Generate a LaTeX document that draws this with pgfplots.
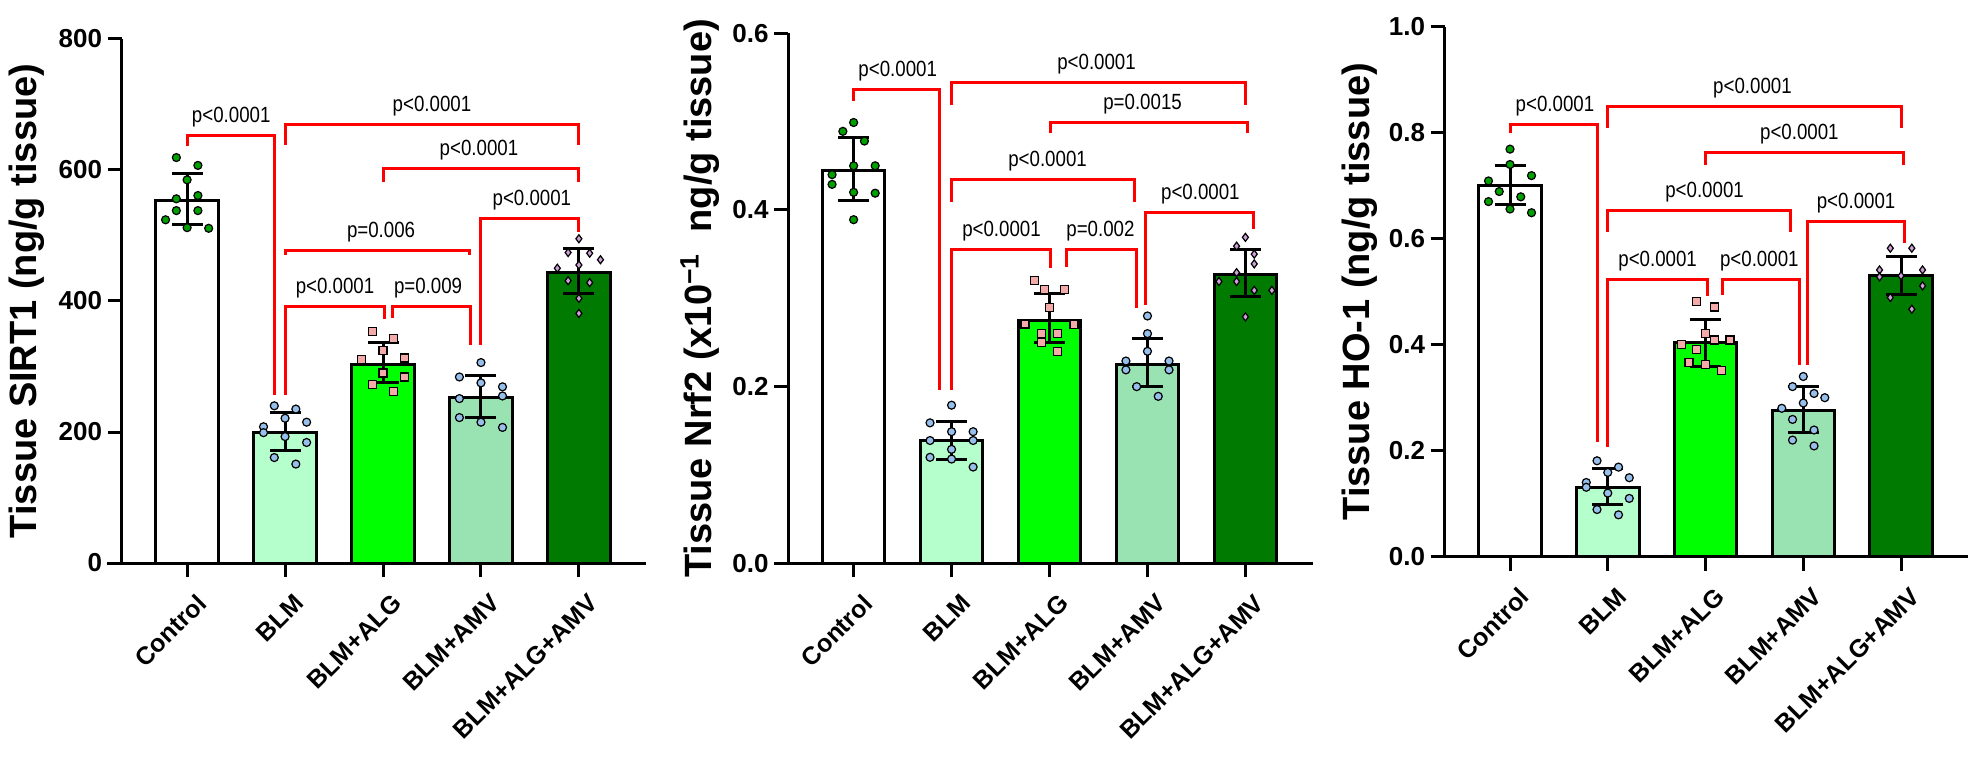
\documentclass[border=0pt]{standalone}
\usepackage{fontspec}
\setmainfont{Liberation Sans}
\newfontfamily\pnarrow[FakeStretch=0.85]{Liberation Sans}
\usepackage{pgfplots}
\pgfplotsset{compat=1.18}
\definecolor{pred}{RGB}{255,0,0}
\definecolor{ctrlpt}{RGB}{0,160,0}
\definecolor{blmbar}{RGB}{180,255,204}
\definecolor{algbar}{RGB}{0,255,0}
\definecolor{amvbar}{RGB}{153,226,178}
\definecolor{combbar}{RGB}{0,122,0}
\definecolor{bluept}{RGB}{150,192,235}
\definecolor{pinkpt}{RGB}{245,170,170}
\definecolor{violetpt}{RGB}{205,160,215}
\pgfplotsset{
 panel/.style={
  scale only axis, anchor=south west,
  xmin=-0.67, xmax=4.685, ymin=0,
  axis lines=left,
  axis line style={line width=1.5pt, -, black},
  x axis line style={shorten <=-7pt},
  tick align=outside, major tick length=7pt,
  tick style={black, line width=1.5pt},
  xtick={0,1,2,3,4},
  xticklabels={Control,BLM,BLM+ALG,BLM+AMV,BLM+ALG+AMV},
  xticklabel style={xshift=4pt, yshift=-7.5pt, rotate=45, anchor=north east, inner sep=0pt, font=\fontsize{12.5}{12.5}\selectfont\bfseries},
  yticklabel style={anchor=east, inner sep=0pt, xshift=-2.5pt, font=\fontsize{13}{13}\selectfont\bfseries},
  /pgf/number format/assume math mode=true,
  ylabel style={font=\fontsize{19}{19}\selectfont\bfseries, anchor=center},
  clip=false,
  minor tick num=0,
 },
 barp/.style={ybar, bar shift=0pt, bar width=0.64, draw=black, line width=1.5pt, fill=#1},
 pts/.style 2 args={only marks, mark=#1, mark size=2pt, mark options={fill=#2, draw=black, line width=0.6pt, solid}},
 errp/.style={draw=none, mark=none, forget plot, error bars/.cd, y dir=both, y explicit, error bar style={draw=black, line width=1.5pt}, error mark options={rotate=90, draw=black, mark size=7.75pt, line width=1.5pt}},
 brk/.style={draw=pred, line width=1.5pt, mark=none, line join=miter},
}
\tikzset{plab/.style={anchor=base, yshift=6.5pt, inner sep=0pt, font=\pnarrow\fontsize{11}{11}\selectfont}}
\begin{document}
\begin{tikzpicture}
\useasboundingbox (0,0) rectangle (992.5pt,383pt);
% ---------------- Panel 1: SIRT1
\begin{axis}[panel, at={(60.75pt,101.5pt)}, width=262.25pt, height=262pt,
  ymax=800, ytick={0,200,400,600,800},
  ylabel={Tissue SIRT1 (ng/g tissue)},
  ylabel style={at={(axis description cs:-0.181,0.5)}}]
\addplot[barp=white] coordinates {(0,553)};
\addplot[barp=blmbar] coordinates {(1,200)};
\addplot[barp=algbar] coordinates {(2,303)};
\addplot[barp=amvbar] coordinates {(3,253)};
\addplot[barp=combbar] coordinates {(4,444)};
\addplot[pts={*}{ctrlpt}] coordinates {(-0.11,619)(0.11,607)(0,585)(-0.11,556)(0.11,561)(-0.11,538)(0.11,538)(-0.22,524)(0,512)(0.22,511)};
\addplot[pts={*}{bluept}] coordinates {(0.89,240)(1.11,235)(1,221)(1.22,215)(0.78,208)(0.78,199)(1,193)(1.22,184)(0.89,161)(1.11,151)};
\addplot[pts={square*}{pinkpt}] coordinates {(1.89,354)(2.11,343)(2,324)(1.78,311)(2.22,313)(2,290)(2.22,284)(1.89,273)(2.11,262)};
\addplot[pts={*}{bluept}] coordinates {(3,306)(2.78,284)(3.22,269)(3,275)(2.78,251)(3.22,255)(2.78,222)(3,215)(3.22,207)};
\addplot[pts={diamond*}{violetpt}] coordinates {(4,495)(3.89,474)(4.11,473)(4.22,463)(3.78,450)(4,455)(3.89,431)(4.11,428)(4,404)(4,381)};
\addplot[errp] coordinates {(0,553) += (0,41) -= (0,36) (1,200) += (0,30) -= (0,29) (2,303) += (0,33) -= (0,28) (3,253) += (0,33) -= (0,31) (4,444) += (0,36) -= (0,32)};
\addplot[brk] coordinates {(0,636)(0,653)(0.89,653)(0.89,256)};
\addplot[brk] coordinates {(1,638)(1,669)(4,669)(4,638)};
\addplot[brk] coordinates {(2,582)(2,603)(4,603)(4,582)};
\addplot[brk] coordinates {(3,333)(3,526)(4,526)(4,506)};
\addplot[brk] coordinates {(1,470)(1,477)(2.88,477)(2.88,470)};
\addplot[brk] coordinates {(1,256)(1,392)(2.02,392)(2.02,372)};
\addplot[brk] coordinates {(2.1,374)(2.1,392)(2.89,392)(2.89,333)};
\node[plab] at (axis cs:0.45,653) {p<0.0001};
\node[plab] at (axis cs:2.5,669) {p<0.0001};
\node[plab] at (axis cs:2.98,603) {p<0.0001};
\node[plab] at (axis cs:3.52,526) {p<0.0001};
\node[plab] at (axis cs:1.98,477) {p=0.006};
\node[plab] at (axis cs:1.51,392) {p<0.0001};
\node[plab] at (axis cs:2.46,392) {p=0.009};
\end{axis}
% ---------------- Panel 2: Nrf2
\begin{axis}[panel, at={(394pt,101.35pt)}, width=262.25pt, height=265pt,
  ymax=0.6, ytick={0,0.2,0.4,0.6},
  yticklabel style={/pgf/number format/.cd, fixed, fixed zerofill, precision=1},
  ylabel={Tissue Nrf2 (x10\textsuperscript{−1}\ \ ng/g tissue)},
  ylabel style={at={(axis description cs:-0.168,0.5)}}]
\addplot[barp=white] coordinates {(0,0.4445)};
\addplot[barp=blmbar] coordinates {(1,0.1385)};
\addplot[barp=algbar] coordinates {(2,0.2754)};
\addplot[barp=amvbar] coordinates {(3,0.2256)};
\addplot[barp=combbar] coordinates {(4,0.3275)};
\addplot[pts={*}{ctrlpt}] coordinates {(0,0.499)(-0.11,0.489)(0.11,0.478)(0.22,0.450)(-0.22,0.440)(0,0.450)(-0.22,0.429)(0.22,0.419)(0,0.420)(0,0.389)};
\addplot[pts={*}{bluept}] coordinates {(1,0.179)(0.78,0.159)(1,0.149)(1.22,0.149)(0.78,0.139)(1.22,0.139)(1,0.129)(0.78,0.120)(1,0.118)(1.22,0.109)};
\addplot[pts={square*}{pinkpt}] coordinates {(1.85,0.320)(1.95,0.310)(2.15,0.310)(2,0.290)(1.75,0.271)(2.25,0.270)(1.92,0.260)(2.08,0.260)(1.92,0.250)(2.08,0.240)};
\addplot[pts={*}{bluept}] coordinates {(3,0.280)(3,0.260)(3,0.240)(2.78,0.229)(3.22,0.229)(2.78,0.219)(3.22,0.219)(2.89,0.200)(3.11,0.189)};
\addplot[pts={diamond*}{violetpt}] coordinates {(4,0.369)(3.91,0.359)(4.09,0.350)(4.09,0.339)(3.91,0.329)(3.73,0.319)(3.91,0.319)(4.09,0.309)(4.27,0.309)(4,0.279)};
\addplot[errp] coordinates {(0,0.4445) += (0,0.0375) -= (0,0.0335) (1,0.1385) += (0,0.0215) -= (0,0.0205) (2,0.2754) += (0,0.0303) -= (0,0.0254) (3,0.2256) += (0,0.0284) -= (0,0.0256) (4,0.3275) += (0,0.028) -= (0,0.0249)};
\addplot[brk] coordinates {(0,0.5237)(0,0.5359)(0.88,0.5359)(0.88,0.196)};
\addplot[brk] coordinates {(1,0.5188)(1,0.544)(4,0.544)(4,0.5188)};
\addplot[brk] coordinates {(2.01,0.4868)(2.01,0.4989)(4.02,0.4989)(4.02,0.4868)};
\addplot[brk] coordinates {(1,0.4094)(1,0.434)(2.87,0.434)(2.87,0.4094)};
\addplot[brk] coordinates {(2.98,0.2924)(2.98,0.3974)(4.08,0.3974)(4.08,0.379)};
\addplot[brk] coordinates {(1,0.196)(1,0.3547)(2.01,0.3547)(2.01,0.334)};
\addplot[brk] coordinates {(2.17,0.3358)(2.17,0.3547)(2.89,0.3547)(2.89,0.2887)};
\node[plab] at (axis cs:0.45,0.5359) {p<0.0001};
\node[plab] at (axis cs:2.48,0.544) {p<0.0001};
\node[plab] at (axis cs:2.95,0.4989) {p=0.0015};
\node[plab] at (axis cs:1.98,0.434) {p<0.0001};
\node[plab] at (axis cs:3.54,0.3974) {p<0.0001};
\node[plab] at (axis cs:1.51,0.3547) {p<0.0001};
\node[plab] at (axis cs:2.52,0.3547) {p=0.002};
\end{axis}
% ---------------- Panel 3: HO-1
\begin{axis}[panel, at={(722.25pt,104.65pt)}, width=261.75pt, height=265pt,
  ymax=1.0, ytick={0,0.2,0.4,0.6,0.8,1.0},
  yticklabel style={/pgf/number format/.cd, fixed, fixed zerofill, precision=1},
  ylabel={Tissue HO-1 (ng/g tissue)},
  ylabel style={at={(axis description cs:-0.162,0.5)}}]
\addplot[barp=white] coordinates {(0,0.700)};
\addplot[barp=blmbar] coordinates {(1,0.131)};
\addplot[barp=algbar] coordinates {(2,0.404)};
\addplot[barp=amvbar] coordinates {(3,0.275)};
\addplot[barp=combbar] coordinates {(4,0.530)};
\addplot[pts={*}{ctrlpt}] coordinates {(0,0.769)(0,0.740)(-0.22,0.709)(0.22,0.719)(-0.11,0.689)(0.11,0.679)(-0.22,0.670)(0,0.656)(0.22,0.649)};
\addplot[pts={*}{bluept}] coordinates {(0.89,0.181)(1.11,0.169)(1,0.159)(0.78,0.140)(1.22,0.149)(0.78,0.131)(1.22,0.110)(1,0.120)(0.89,0.089)(1.11,0.079)};
\addplot[pts={square*}{pinkpt}] coordinates {(1.91,0.481)(2.09,0.471)(2,0.421)(1.75,0.401)(2.25,0.409)(1.91,0.391)(2.09,0.409)(1.83,0.366)(2,0.362)(2.16,0.351)};
\addplot[pts={*}{bluept}] coordinates {(3,0.340)(2.89,0.321)(3.11,0.308)(3.22,0.300)(3,0.290)(2.78,0.280)(2.89,0.259)(3.11,0.239)(2.89,0.220)(3.11,0.209)};
\addplot[pts={diamond*}{violetpt}] coordinates {(3.89,0.582)(4.11,0.582)(3.78,0.541)(4.22,0.541)(4,0.530)(3.78,0.528)(4.22,0.511)(3.89,0.489)(4.11,0.467)};
\addplot[errp] coordinates {(0,0.700) += (0,0.039) -= (0,0.036) (1,0.131) += (0,0.036) -= (0,0.032) (2,0.404) += (0,0.044) -= (0,0.045) (3,0.275) += (0,0.047) -= (0,0.041) (4,0.530) += (0,0.037) -= (0,0.035)};
\addplot[brk] coordinates {(0,0.799)(0,0.8164)(0.89,0.8164)(0.89,0.2158)};
\addplot[brk] coordinates {(1,0.808)(1,0.8503)(4,0.8503)(4,0.808)};
\addplot[brk] coordinates {(2,0.739)(2,0.7623)(4.02,0.7623)(4.02,0.739)};
\addplot[brk] coordinates {(1,0.613)(1,0.654)(2.87,0.654)(2.87,0.613)};
\addplot[brk] coordinates {(3.04,0.3617)(3.04,0.632)(4.04,0.632)(4.04,0.591)};
\addplot[brk] coordinates {(1,0.2075)(1,0.5233)(2.02,0.5233)(2.02,0.4918)};
\addplot[brk] coordinates {(2.17,0.4937)(2.17,0.5233)(2.96,0.5233)(2.96,0.3617)};
\node[plab] at (axis cs:0.46,0.8164) {p<0.0001};
\node[plab] at (axis cs:2.48,0.8503) {p<0.0001};
\node[plab] at (axis cs:2.96,0.7623) {p<0.0001};
\node[plab] at (axis cs:1.99,0.654) {p<0.0001};
\node[plab] at (axis cs:3.54,0.632) {p<0.0001};
\node[plab] at (axis cs:1.51,0.5233) {p<0.0001};
\node[plab] at (axis cs:2.55,0.5233) {p<0.0001};
\end{axis}
\end{tikzpicture}
\end{document}
